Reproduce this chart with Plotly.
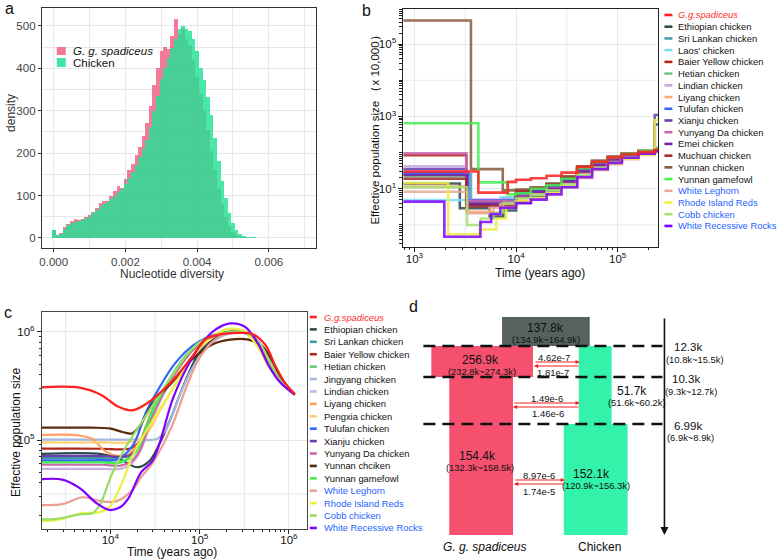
import math
import plotly.graph_objects as go

W, H = 778, 559
FONT = "Liberation Sans, Arial, sans-serif"

# ======================= DATA =======================
# ---- panel a : nucleotide diversity histogram (bin width 0.0001) ----
hist_bin_centers = [i / 10000 for i in range(70)]
spadiceus_density = [18, 6, 12, 25, 32, 40, 45, 42, 45, 50,
                     55, 62, 70, 82, 88, 86, 98, 110, 122, 118,
                     140, 160, 175, 195, 215, 240, 270, 310, 360, 400,
                     440, 450, 445, 475, 515, 480, 495, 470, 455, 420,
                     380, 340, 300, 255, 205, 160, 115, 80, 50, 28,
                     15, 8, 4, 2, 1.5, 1, 0.5, 0.5, 0.5, 0.5,
                     0.5, 0.5, 0.5, 0.5, 0.5, 0.5, 0.5, 0.5, 0.5, 0.5]
chicken_density = [20, 8, 10, 22, 30, 36, 38, 40, 42, 46,
                   50, 58, 66, 74, 80, 84, 92, 100, 108, 116,
                   128, 142, 156, 172, 190, 210, 232, 262, 300, 335,
                   375, 400, 425, 448, 470, 492, 500, 492, 488, 470,
                   440, 400, 372, 332, 290, 235, 182, 135, 95, 60,
                   35, 18, 9, 5, 3, 2, 1.5, 1, 1, 0.5,
                   0.5, 0.5, 0.5, 0.5, 0.5, 0.5, 0.5, 0.5, 0.5, 0.5]
a_x_ticks = [0.0, 0.002, 0.004, 0.006]
a_x_ticktext = ["0.000", "0.002", "0.004", "0.006"]
a_y_ticks = [0, 100, 200, 300, 400, 500]

# ---- panel b : PSMC step curves (x = years ago, y = Ne x 10,000) ----
b_names = ["G.g.spadiceus", "Ethiopian chicken", "Sri Lankan chicken", "Laos' chicken",
           "Baier Yellow chicken", "Hetian chicken", "Lindian chicken", "Liyang chicken",
           "Tulufan chicken", "Xianju chicken", "Yunyang Da chicken", "Emei chicken",
           "Muchuan chicken", "Yunnan chicken", "Yunnan gamefowl", "White Leghorn",
           "Rhode Island Reds", "Cobb chicken", "White Recessive Rocks"]
b_tail_x = [10000, 14000, 20000, 28000, 40000, 56000, 80000, 110000, 160000, 232000, 300000]
b_head_x = [
    [700, 4260, 8300],
    [700, 2800, 5500, 7500],
    [700, 3600, 7500],
    [700, 3300, 7000],
    [700, 3240],
    [700, 3300],
    [700, 3240],
    [700, 3240, 6000],
    [700, 3400],
    [700, 3240],
    [700, 3240],
    [700, 3300],
    [700, 3240],
    [700, 3600, 7400],
    [700, 4260, 8200],
    [700, 3300, 5500, 7000],
    [700, 2150, 4400, 6400, 8000],
    [700, 3300, 4500, 6000, 7500],
    [700, 1970, 4460, 5700, 7000],
]
b_head_y = [
    [30, 7.8, 15.5],
    [14, 2.9, 1.7, 2.5],
    [25, 3.5, 5.5],
    [4.9, 4.2, 5.8],
    [85, 3.8],
    [22, 4.5],
    [42, 5.0],
    [11.5, 2.3, 3.5],
    [28, 4.8],
    [35, 4.2],
    [95, 4.6],
    [24, 3.6],
    [19, 3.3],
    [450000, 35, 9],
    [650, 15, 7],
    [8.3, 2.1, 3.0, 3.8],
    [14.5, 0.55, 0.75, 1.5, 3.0],
    [11, 1.0, 1.5, 2.2, 4.0],
    [4.4, 0.47, 1.2, 2.0, 3.0],
]
b_tail_y = [
    [17.8, 19.5, 23, 28, 40, 56, 74, 90, 105, 120, 120],
    [4.1, 6, 9, 15, 28, 44, 62, 80, 98, 600, 600],
    [6.5, 8, 10.5, 17, 32, 48, 65, 82, 100, 118, 118],
    [7, 8.5, 11, 17, 31, 47, 64, 82, 100, 118, 118],
    [8.5, 10, 13, 20, 38, 55, 72, 90, 108, 125, 125],
    [7, 9, 11.5, 18, 34, 50, 67, 85, 103, 120, 120],
    [6.5, 8.5, 11, 17, 33, 49, 66, 84, 102, 120, 120],
    [5.5, 7.5, 9.5, 15, 28, 43, 60, 78, 96, 114, 114],
    [7.5, 9.5, 12, 19, 36, 52, 70, 88, 106, 124, 124],
    [6.5, 8.5, 11, 17, 32, 48, 65, 83, 100, 1100, 1100],
    [6.5, 8, 10.5, 16, 30, 46, 63, 80, 98, 116, 116],
    [6, 8, 10, 16, 30, 45, 62, 80, 98, 118, 118],
    [9, 10.5, 13.5, 21, 40, 57, 75, 92, 110, 128, 128],
    [9.5, 11, 14, 22, 42, 60, 78, 95, 112, 130, 130],
    [7.5, 10, 12.5, 19, 37, 55, 73, 92, 112, 135, 135],
    [4.5, 5.5, 7.5, 11, 20, 33, 48, 66, 86, 105, 105],
    [4.5, 5.5, 7.5, 11.5, 21, 34, 50, 68, 88, 800, 800],
    [5.5, 7, 9, 13, 24, 38, 55, 74, 94, 112, 112],
    [4, 5, 7, 11, 21, 35, 52, 72, 93, 110, 110],
]

# ---- panel c : SMC++ curves (x = years ago, y = effective population size) ----
c_names = ["G.g.spadiceus", "Ethiopian chicken", "Sri Lankan chicken", "Baier Yellow chicken",
           "Hetian chicken", "Jingyang chicken", "Lindian chicken", "Liyang chicken",
           "Pengxia chicken", "Tulufan chicken", "Xianju chicken", "Yunyang Da chicken",
           "Yunnan chciken", "Yunnan gamefowl", "White Leghorn", "Rhode Island Reds",
           "Cobb chicken", "White Recessive Rocks"]
c_x = [
    [1500, 4500, 8000, 12000, 17500, 25000, 49000, 81000, 115000, 160000, 280000, 400000, 550000, 700000, 900000, 1170000],
    [1500, 8000, 13000, 20000, 27000, 35000, 47000, 65000, 100000, 150000, 220000, 350000, 490000, 650000, 850000, 1170000],
    [1500, 8000, 12000, 16000, 20000, 28000, 38000, 50000, 70000, 100000, 150000, 230000, 330000, 470000, 630000, 830000, 1150000],
    [1500, 8000, 13000, 17000, 22000, 30000, 40000, 52000, 72000, 100000, 150000, 230000, 330000, 470000, 630000, 830000, 1150000],
    [1500, 8000, 12000, 16000, 20000, 28000, 38000, 50000, 70000, 100000, 150000, 230000, 330000, 470000, 630000, 830000, 1150000],
    [1500, 10000, 20000, 33000, 42000, 50000, 60000, 80000, 115000, 170000, 260000, 360000, 480000, 640000, 840000, 1150000],
    [1500, 8000, 13000, 17000, 21000, 29000, 39000, 51000, 71000, 100000, 150000, 230000, 330000, 470000, 630000, 830000, 1150000],
    [1500, 4500, 6300, 8500, 10500, 15000, 21000, 28000, 38000, 50000, 70000, 100000, 150000, 230000, 330000, 470000, 630000, 830000, 1150000],
    [1500, 8000, 17000, 25000, 35000, 50000, 70000, 100000, 150000, 230000, 330000, 450000, 600000, 830000, 1150000],
    [1500, 8000, 12000, 18000, 25000, 35000, 50000, 70000, 100000, 150000, 230000, 330000, 470000, 630000, 830000, 1150000],
    [1500, 8000, 12500, 16500, 21000, 29000, 39000, 51000, 71000, 100000, 150000, 230000, 330000, 470000, 630000, 830000, 1150000],
    [1500, 8000, 13000, 17000, 21000, 29000, 39000, 51000, 71000, 100000, 150000, 230000, 330000, 470000, 630000, 830000, 1150000],
    [1500, 6000, 9800, 14000, 17500, 22000, 30000, 49000, 81000, 140000, 220000, 350000, 500000, 650000, 850000, 1150000],
    [1500, 8000, 12000, 16000, 20000, 28000, 38000, 50000, 70000, 100000, 150000, 230000, 330000, 470000, 630000, 830000, 1150000],
    [1500, 2900, 4900, 8100, 11500, 17500, 22000, 30000, 49000, 70000, 100000, 150000, 230000, 330000, 470000, 630000, 830000, 1150000],
    [1500, 2400, 4900, 7600, 9800, 14000, 17500, 29500, 49000, 70000, 100000, 150000, 230000, 330000, 450000, 600000, 830000, 1150000],
    [1500, 2400, 4500, 6300, 7600, 10500, 15000, 23000, 32000, 50000, 70000, 100000, 150000, 230000, 330000, 470000, 630000, 830000, 1150000],
    [1500, 2900, 4500, 7000, 9800, 13000, 16000, 22000, 30000, 50000, 70000, 105000, 150000, 220000, 320000, 450000, 600000, 800000, 1150000],
]
c_y = [
    [306000, 305000, 260000, 205000, 188000, 215000, 350000, 580000, 850000, 940000, 980000, 950000, 750000, 490000, 340000, 265000],
    [74000, 74000, 66000, 56000, 63000, 90000, 155000, 310000, 650000, 880000, 1000000, 970000, 740000, 480000, 330000, 262000],
    [68000, 68000, 67000, 72000, 85000, 170000, 280000, 400000, 600000, 790000, 930000, 1000000, 980000, 780000, 500000, 340000, 265000],
    [83000, 83000, 82000, 84000, 100000, 180000, 280000, 400000, 590000, 780000, 930000, 1000000, 980000, 780000, 500000, 340000, 265000],
    [63000, 63000, 62000, 68000, 82000, 170000, 280000, 410000, 610000, 800000, 940000, 1010000, 980000, 780000, 500000, 340000, 265000],
    [101000, 101000, 101000, 102000, 125000, 175000, 260000, 440000, 690000, 900000, 990000, 960000, 760000, 490000, 335000, 263000],
    [54000, 54000, 54000, 60000, 75000, 150000, 260000, 390000, 590000, 780000, 930000, 990000, 970000, 770000, 500000, 340000, 265000],
    [111000, 110000, 102000, 80000, 73000, 72000, 95000, 170000, 270000, 390000, 590000, 790000, 940000, 1020000, 990000, 780000, 500000, 340000, 265000],
    [95000, 95000, 96000, 112000, 180000, 300000, 480000, 700000, 920000, 1060000, 1010000, 800000, 500000, 340000, 265000],
    [65000, 65000, 66000, 90000, 180000, 300000, 480000, 660000, 820000, 950000, 1010000, 980000, 780000, 500000, 340000, 265000],
    [71000, 71000, 70000, 72000, 90000, 175000, 280000, 400000, 600000, 790000, 930000, 1010000, 980000, 780000, 500000, 340000, 265000],
    [59000, 59000, 58000, 63000, 78000, 160000, 270000, 395000, 595000, 785000, 930000, 1000000, 975000, 775000, 500000, 340000, 265000],
    [130000, 130000, 128000, 118000, 115000, 140000, 220000, 340000, 550000, 770000, 850000, 850000, 740000, 540000, 350000, 265000],
    [62000, 62000, 61000, 67000, 80000, 165000, 275000, 405000, 605000, 795000, 940000, 1005000, 980000, 780000, 500000, 340000, 265000],
    [25000, 25500, 29500, 27000, 27000, 34000, 45000, 62000, 135000, 300000, 580000, 850000, 1000000, 970000, 770000, 500000, 340000, 265000],
    [18000, 18000, 21000, 21500, 24000, 43000, 70000, 150000, 290000, 480000, 720000, 950000, 1080000, 980000, 720000, 470000, 330000, 265000],
    [18500, 18500, 20500, 21000, 25000, 49000, 87000, 150000, 230000, 400000, 600000, 800000, 940000, 1000000, 980000, 780000, 500000, 340000, 265000],
    [43000, 43000, 36000, 26000, 22500, 24000, 29000, 50000, 65000, 240000, 450000, 780000, 1050000, 1200000, 1120000, 780000, 480000, 340000, 265000],
]

# ---- panel d : demographic model (labels / estimates) ----
d_block_ne = ["137.8k", "256.9k", "154.4k", "51.7k", "152.1k"]
d_block_ci = ["(134.9k~164.9k)", "(232.8k~274.3k)", "(132.3k~158.5k)", "(51.6k~60.2k)", "(120.9k~156.3k)"]
d_split_times = ["12.3k", "10.3k", "6.99k"]
d_split_ci = ["(10.8k~15.5k)", "(9.3k~12.7k)", "(6.9k~8.9k)"]
d_mig_to_chicken = ["4.62e-7", "1.49e-6", "8.97e-6"]
d_mig_to_gg = ["1.81e-7", "1.46e-6", "1.74e-5"]
d_pop_labels = ["<i>G. g. spadiceus</i>", "Chicken"]

# ======================= STYLES / LAYOUT GEOMETRY =======================
b_colors = ["#ff1f1f", "#2f4a4a", "#4a9fb5", "#7fdcf5", "#b3261a", "#74c986", "#c7a9e0",
            "#ffa76e", "#3a66ff", "#6a3fb0", "#cc66aa", "#7422a6", "#a52a2a", "#8b5a3c",
            "#44ee55", "#e8a898", "#eeee44", "#a6e070", "#8000ff"]
b_text_colors = ["#ff2a2a"] + ["#111111"] * 14 + ["#1f5fff"] * 4
c_colors = ["#ff1f1f", "#2f4a4a", "#3a9ea5", "#b3261a", "#66cc77", "#a4b8e0", "#cbb0e6",
            "#ffa060", "#ffd070", "#3366ff", "#6a3fb0", "#cc66aa", "#5c2a0c", "#44ee55",
            "#e8a090", "#eef040", "#99dd66", "#8000ff"]
c_text_colors = ["#ff2a2a"] + ["#111111"] * 13 + ["#1f5fff"] * 4

# panel d schematic geometry (pixel-like units on a hidden axis)
d_bx0 = [501, 430, 448, 578, 563]
d_bx1 = [589, 532, 512, 611, 627]
d_by0 = [317, 346, 377, 346, 424]
d_by1 = [346, 377, 535, 424, 535]
d_bcol = ["#55625f", "#f5506e", "#f5506e", "#33f2aa", "#33f2aa"]
d_lab_xy = [(545, 328), (479, 360), (476, 456), (631, 391), (591, 474)]
d_ci_xy = [(545, 339), (481, 371), (479, 467), (636, 402), (595, 485)]
d_line_y = [346, 377, 424]
d_time_xy = [(688, 347), (686, 379), (688, 426)]
d_timeci_xy = [(695, 359), (691, 391), (690, 437)]
d_mig_x = [(533, 579), (512, 579), (513, 564)]
d_mig_y = [(362, 366), (403, 407), (480, 484)]
d_migtxt_fwd = [(553, 357), (546, 398), (538, 475)]
d_migtxt_back = [(552, 372), (547, 413), (538, 491)]
d_pop_xy = [(483, 547), (599, 547)]

# axis ranges (log10 units for log axes)
B_XR = [2.892, 5.402]
B_YR = [-0.61, 5.97]
C_XR = [3.233, 6.2]
C_YR = [4.176, 6.185]


def px(x):
    return x / W


def py(y):
    return 1 - y / H


fig = go.Figure()
annotations = []
shapes = []


def text(t, x, y, size, color="#111", xanchor="center", angle=0, ref="paper"):
    if ref == "paper":
        annotations.append(dict(text=t, x=px(x), y=py(y), xref="paper", yref="paper",
                                showarrow=False, xanchor=xanchor, yanchor="middle",
                                textangle=angle, font=dict(size=size, color=color, family=FONT)))
    else:
        annotations.append(dict(text=t, x=x, y=y, xref="x4", yref="y4",
                                showarrow=False, xanchor=xanchor, yanchor="middle",
                                textangle=angle, font=dict(size=size, color=color, family=FONT)))


grid = "#e3e9ed"


def vgrid(axis, rng, value):
    f = (math.log10(value) - rng[0]) / (rng[1] - rng[0])
    shapes.append(dict(type="line", xref=axis[0] + " domain", yref=axis[1] + " domain",
                       x0=f, x1=f, y0=0, y1=1, layer="below", line=dict(color=grid, width=1)))


def hgrid(axis, rng, value):
    f = (math.log10(value) - rng[0]) / (rng[1] - rng[0])
    shapes.append(dict(type="line", xref=axis[0] + " domain", yref=axis[1] + " domain",
                       x0=0, x1=1, y0=f, y1=f, layer="below", line=dict(color=grid, width=1)))


# ---------------- panel a ----------------
fig.add_trace(go.Bar(x=hist_bin_centers, y=spadiceus_density, width=0.0001,
                     marker=dict(color="rgba(238,86,122,0.78)", line=dict(width=0)),
                     xaxis="x", yaxis="y", showlegend=False))
fig.add_trace(go.Bar(x=hist_bin_centers, y=chicken_density, width=0.0001,
                     marker=dict(color="rgba(34,226,150,0.82)", line=dict(width=0)),
                     xaxis="x", yaxis="y", showlegend=False))

# ---------------- panel b ----------------
b_order = list(range(1, len(b_names))) + [0]
for i in b_order:
    fig.add_trace(go.Scatter(x=b_head_x[i] + b_tail_x, y=b_head_y[i] + b_tail_y[i],
                             mode="lines", line=dict(shape="hv", width=2.6, color=b_colors[i]),
                             opacity=0.85, xaxis="x2", yaxis="y2", showlegend=False,
                             name=b_names[i]))
for v in [3162.28, 31622.8]:
    vgrid(("x2", "y2"), B_XR, v)
for v in [1, 100, 10000]:
    hgrid(("x2", "y2"), B_YR, v)

# ---------------- panel c ----------------
c_order = list(range(1, len(c_names))) + [0]
for i in c_order:
    fig.add_trace(go.Scatter(x=c_x[i], y=c_y[i], mode="lines",
                             line=dict(shape="spline", smoothing=1.0, width=2.2, color=c_colors[i]),
                             xaxis="x3", yaxis="y3", showlegend=False, name=c_names[i]))
for v in [3162.28, 31622.8, 316228]:
    vgrid(("x3", "y3"), C_XR, v)
for v in [31622.8, 316228]:
    hgrid(("x3", "y3"), C_YR, v)

# ---------------- panel d ----------------
for i in range(len(d_bx0)):
    fig.add_trace(go.Scatter(x=[d_bx0[i], d_bx1[i], d_bx1[i], d_bx0[i], d_bx0[i]],
                             y=[d_by0[i], d_by0[i], d_by1[i], d_by1[i], d_by0[i]],
                             mode="lines", fill="toself", fillcolor=d_bcol[i],
                             line=dict(width=0, color=d_bcol[i]), xaxis="x4", yaxis="y4",
                             showlegend=False, hoverinfo="skip"))
for yv in d_line_y:
    shapes.append(dict(type="line", xref="x4", yref="y4", x0=422, x1=662, y0=yv, y1=yv,
                       line=dict(color="#111", width=2.6, dash="12px,7px")))
for i in range(5):
    text(d_block_ne[i], d_lab_xy[i][0], d_lab_xy[i][1], 12, ref="d")
    text(d_block_ci[i], d_ci_xy[i][0], d_ci_xy[i][1], 9.4, ref="d")
for i in range(3):
    text(d_split_times[i], d_time_xy[i][0], d_time_xy[i][1], 11.5, ref="d")
    text(d_split_ci[i], d_timeci_xy[i][0], d_timeci_xy[i][1], 9.4, ref="d")
    text(d_mig_to_chicken[i], d_migtxt_fwd[i][0], d_migtxt_fwd[i][1], 9.5, ref="d")
    text(d_mig_to_gg[i], d_migtxt_back[i][0], d_migtxt_back[i][1], 9.5, ref="d")
    xa, xb = d_mig_x[i]
    ya, yb = d_mig_y[i]
    annotations.append(dict(x=xb, y=ya, ax=xa, ay=ya, xref="x4", yref="y4", axref="x4", ayref="y4",
                            text="", showarrow=True, arrowhead=2, arrowsize=0.7, arrowwidth=1.2,
                            arrowcolor="#f02020", standoff=0, startstandoff=0))
    annotations.append(dict(x=xa, y=yb, ax=xb, ay=yb, xref="x4", yref="y4", axref="x4", ayref="y4",
                            text="", showarrow=True, arrowhead=2, arrowsize=0.7, arrowwidth=1.2,
                            arrowcolor="#f02020", standoff=0, startstandoff=0))
annotations.append(dict(x=664, y=535, ax=664, ay=317, xref="x4", yref="y4", axref="x4", ayref="y4",
                        text="", showarrow=True, arrowhead=2, arrowsize=1, arrowwidth=1.6,
                        arrowcolor="#111", standoff=0))
for i in range(2):
    text(d_pop_labels[i], d_pop_xy[i][0], d_pop_xy[i][1], 12, ref="d")

# ---------------- legends (manual, compact) ----------------
shapes.append(dict(type="rect", xref="paper", yref="paper", x0=px(54), x1=px(63), y0=py(55), y1=py(47),
                   fillcolor="#f07896", line=dict(width=0)))
shapes.append(dict(type="rect", xref="paper", yref="paper", x0=px(54), x1=px(63), y0=py(67), y1=py(58),
                   fillcolor="#3fe6a6", line=dict(width=0)))
text("<i>G. g. spadiceus</i>", 68, 51, 11.5, xanchor="left")
text("Chicken", 68, 63, 11.5, xanchor="left")

for i, nm in enumerate(b_names):
    yy = 15 + i * 11.72
    shapes.append(dict(type="line", xref="paper", yref="paper", x0=px(664), x1=px(672),
                       y0=py(yy), y1=py(yy), line=dict(color=b_colors[i], width=2.6)))
    t = "<i>%s</i>" % nm if i == 0 else nm
    text(t, 676, yy, 9.4, color=b_text_colors[i], xanchor="left")

for i, nm in enumerate(c_names):
    yy = 317 + i * 12.41
    shapes.append(dict(type="line", xref="paper", yref="paper", x0=px(308), x1=px(315),
                       y0=py(yy), y1=py(yy), line=dict(color=c_colors[i], width=2.6)))
    t = "<i>%s</i>" % nm if i == 0 else nm
    text(t, 320, yy, 9.4, color=c_text_colors[i], xanchor="left")

# ---------------- axis titles & panel letters ----------------
text("Nucleotide diversity", 170, 274, 12, color="#333")
text("density", 8, 113, 12, color="#333", angle=-90)
text("Time (years ago)", 539, 273, 12)
text("Effective population size （x 10,000）", 373, 127, 11.5, angle=-90)
text("Time (years ago)", 170, 552, 12)
text("Effective population size", 13, 432, 12, angle=-90)
text("a", 7, 9, 16)
text("b", 365, 10, 16)
text("c", 5, 312, 16)
text("d", 412, 306, 16)


def log_minor(decades):
    vals = []
    for d in decades:
        for m in range(2, 10):
            vals.append(m * d)
    return vals


tickfont = dict(size=11.5, color="#111", family=FONT)

layout = dict(
    width=W, height=H, margin=dict(l=0, r=0, t=0, b=0),
    paper_bgcolor="white", plot_bgcolor="white",
    font=dict(family=FONT), barmode="overlay", bargap=0, showlegend=False,
    # panel a
    xaxis=dict(domain=[px(39), px(314)], anchor="y", range=[-0.00033, 0.00731],
               tickvals=a_x_ticks, ticktext=a_x_ticktext, ticks="outside", ticklen=3,
               tickcolor="#333", showline=True, mirror=True, linecolor="#333", linewidth=1,
               showgrid=True, gridcolor=grid, zeroline=False,
               minor=dict(tickvals=[0.001, 0.003, 0.005, 0.007], showgrid=True, gridcolor=grid, ticks=""),
               tickfont=dict(size=11.5, color="#444", family=FONT)),
    yaxis=dict(domain=[py(248), py(8)], anchor="x", range=[-23.6, 542],
               tickvals=a_y_ticks, ticks="outside", ticklen=3, tickcolor="#333",
               showline=True, mirror=True, linecolor="#333", linewidth=1,
               showgrid=True, gridcolor=grid, zeroline=False,
               minor=dict(tickvals=[50, 150, 250, 350, 450], showgrid=True, gridcolor=grid, ticks=""),
               tickfont=dict(size=11.5, color="#444", family=FONT)),
    # panel b
    xaxis2=dict(domain=[px(402), px(658)], anchor="y2", type="log", range=B_XR,
                tickvals=[1000, 10000, 100000],
                ticktext=["10<sup>3</sup>", "10<sup>4</sup>", "10<sup>5</sup>"],
                ticks="outside", ticklen=4, tickcolor="#222", showline=True, mirror=True,
                linecolor="#222", linewidth=1, showgrid=True, gridcolor=grid, zeroline=False,
                ticklabelstandoff=-3,
                minor=dict(tickvals=log_minor([100, 1000, 10000, 100000]), ticks="outside",
                           ticklen=2, tickcolor="#222", showgrid=False),
                tickfont=tickfont),
    yaxis2=dict(domain=[py(247), py(9)], anchor="x2", type="log", range=B_YR,
                tickvals=[10, 1000, 100000],
                ticktext=["10<sup>1</sup>", "10<sup>3</sup>", "10<sup>5</sup>"],
                ticks="outside", ticklen=4, tickcolor="#222", showline=True, mirror=True,
                linecolor="#222", linewidth=1, showgrid=True, gridcolor=grid, zeroline=False,
                minor=dict(tickvals=[1, 100, 10000, 1000000] + log_minor([0.1, 1, 10, 100, 1000, 10000, 100000]),
                           ticks="outside", ticklen=3, tickcolor="#222", showgrid=False),
                tickfont=tickfont),
    # panel c
    xaxis3=dict(domain=[px(39), px(305)], anchor="y3", type="log", range=C_XR,
                tickvals=[10000, 100000, 1000000],
                ticktext=["10<sup>4</sup>", "10<sup>5</sup>", "10<sup>6</sup>"],
                ticks="outside", ticklen=4, tickcolor="#222", showline=True, mirror=True,
                linecolor="#444", linewidth=1, showgrid=True, gridcolor=grid, zeroline=False,
                ticklabelstandoff=-4,
                minor=dict(tickvals=log_minor([1000, 10000, 100000, 1000000]), ticks="outside",
                           ticklen=2, tickcolor="#222", showgrid=False),
                tickfont=tickfont),
    yaxis3=dict(domain=[py(529), py(312)], anchor="x3", type="log", range=C_YR,
                tickvals=[100000, 1000000],
                ticktext=["10<sup>5</sup>", "10<sup>6</sup>"],
                ticks="outside", ticklen=4, tickcolor="#222", showline=True, mirror=True,
                linecolor="#444", linewidth=1, showgrid=True, gridcolor=grid, zeroline=False,
                minor=dict(tickvals=log_minor([10000, 100000, 1000000]), ticks="outside",
                           ticklen=2, tickcolor="#222", showgrid=False),
                tickfont=tickfont),
    # panel d (hidden schematic axis, 1 unit = 1 px)
    xaxis4=dict(domain=[px(389), 1.0], anchor="y4", range=[389, 778], visible=False, fixedrange=True),
    yaxis4=dict(domain=[0.0, py(279.5)], anchor="x4", range=[559, 279.5], visible=False, fixedrange=True),
    annotations=annotations, shapes=shapes,
)
fig.update_layout(**layout)
fig.write_html("out.html", config={"displayModeBar": False},
               post_script="document.body.style.margin='0';document.body.style.padding='0';")
